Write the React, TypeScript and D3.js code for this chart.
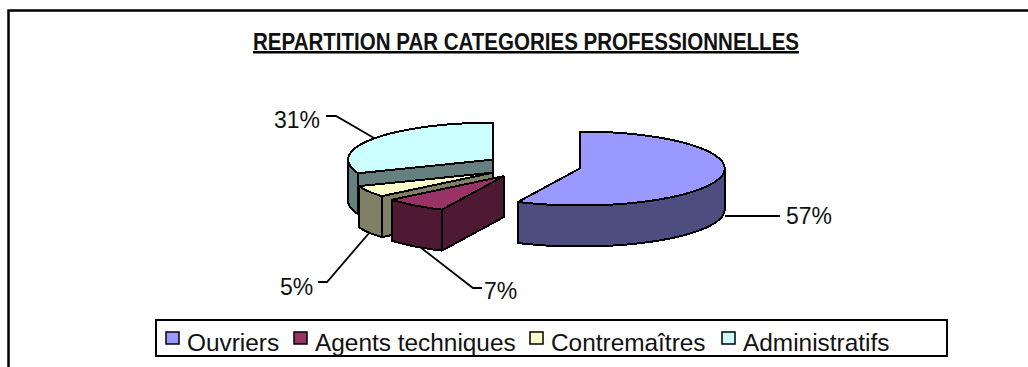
import React from 'react';
import * as d3 from 'd3';

const categories = ['Ouvriers', 'Agents techniques', 'Contremaîtres', 'Administratifs'];
const values = [57, 7, 5, 31];
const explode = [54, 38, 39, 41];
const sink = [0, 3, 2, 0]; // small vertical nudge of the exploded slices
const topColors = ['#9999ff', '#993366', '#ffffcc', '#ccffff'];
const sideColors = ['#4d4d80', '#4d1933', '#808066', '#668080'];
const title = 'REPARTITION PAR CATEGORIES PROFESSIONNELLES';

// leader lines, one per slice
const leaders = [
  [[725, 216], [780, 216]],
  [[420, 247], [473, 288], [482, 288]],
  [[370, 232], [327, 282], [318, 282]],
  [[374, 138], [336, 116], [326, 116]],
];
const labelPos = [
  [786, 216],
  [484, 291],
  [280, 287],
  [274, 120],
];
const keyPos = [166, 294, 530, 722];

const W = 1028;
const H = 367;
const cx = 527;
const cy = 165.5;
const rx = 145;
const ry = 37;
const depth = 41;

const pie = d3.pie<number>().sort(null).startAngle(0).endAngle(2 * Math.PI);
const line = d3.line();

const App = () => {
  const slices = pie(values);

  const drawn = slices.map((s, i) => {
    const mid = (s.startAngle + s.endAngle) / 2;
    const ox = cx + Math.sin(mid) * explode[i];
    const oy = cy - Math.cos(mid) * explode[i] * (ry / rx) + sink[i];
    const pt = (a: number, dz = 0): [number, number] => [
      ox + Math.sin(a) * rx,
      oy - Math.cos(a) * ry + dz,
    ];
    const arcPts = (a0: number, a1: number, dz = 0) =>
      d3.range(0, 61).map((k) => pt(a0 + ((a1 - a0) * k) / 60, dz));

    const top = [[ox, oy], ...arcPts(s.startAngle, s.endAngle)] as [number, number][];

    // the rim only shows on the front half of the ellipse
    const a0 = Math.max(s.startAngle, Math.PI / 2);
    const a1 = Math.min(s.endAngle, (3 * Math.PI) / 2);
    const rim = a1 > a0 ? [...arcPts(a0, a1), ...arcPts(a1, a0, depth)] : null;

    // radial cut wall, visible when it faces the viewer
    const wall: [number, number][] | null =
      s.startAngle > Math.PI / 2 && s.startAngle < Math.PI * 1.5
        ? [[ox, oy], pt(s.startAngle), pt(s.startAngle, depth), [ox, oy + depth]]
        : null;
    return { top, rim, wall };
  });

  return (
    <svg
      width={W}
      height={H}
      style={{ position: 'absolute', left: 0, top: 0, fontFamily: '"Liberation Sans", Arial, sans-serif' }}
    >
      <rect width={W} height={H} fill="#fff" />
      {/* page frame, only left and top are in the crop */}
      <path d="M8.5,367V10.5H1028" fill="none" stroke="#000" strokeWidth={2.5} />

      <text
        x={253}
        y={50}
        fontWeight="bold"
        fontSize={23}
        textLength={546}
        lengthAdjust="spacingAndGlyphs"
        fill="#111"
      >
        {title}
      </text>
      <rect x={253} y={51} width={546} height={2.5} fill="#000" />

      {[3, 2, 1, 0].map((idx) => {
        const d = drawn[idx];
        return (
          <g key={idx} stroke="#000" strokeWidth={2} strokeLinejoin="round" shapeRendering="crispEdges">
            {d.wall && <path d={line(d.wall) + 'Z'} fill={sideColors[idx]} />}
            {d.rim && <path d={line(d.rim as [number, number][]) + 'Z'} fill={sideColors[idx]} />}
            <path d={line(d.top) + 'Z'} fill={topColors[idx]} />
          </g>
        );
      })}

      {leaders.map((l, i) => (
        <path key={i} d={line(l as [number, number][]) as string} fill="none" stroke="#000" strokeWidth={1.8} />
      ))}
      {labelPos.map((p, i) => (
        <text key={i} x={p[0]} y={p[1] + 8} fontSize={23} fill="#111">
          {values[i]}%
        </text>
      ))}

      <rect x={156} y={320} width={791} height={36} fill="#fff" stroke="#000" strokeWidth={2} />
      {categories.map((c, i) => (
        <g key={c}>
          <rect x={keyPos[i]} y={332} width={13} height={12} fill={topColors[i]} stroke="#000" strokeWidth={1.5} />
          <text x={keyPos[i] + 21} y={350.5} fontSize={24.4} fill="#111">
            {c}
          </text>
        </g>
      ))}
    </svg>
  );
};

export default App;
